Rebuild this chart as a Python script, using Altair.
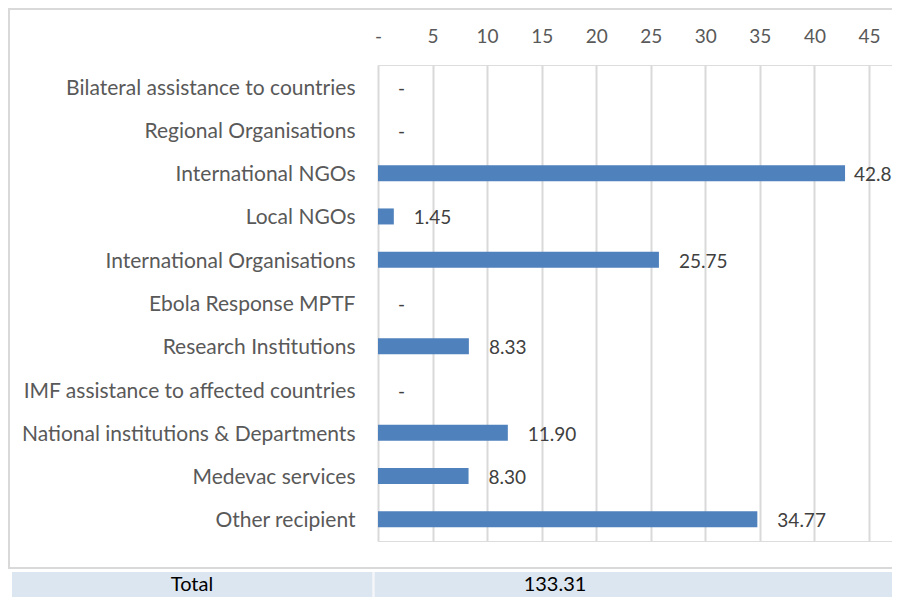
import altair as alt
import pandas as pd

categories = [
    "Bilateral assistance to countries",
    "Regional Organisations",
    "International NGOs",
    "Local NGOs",
    "International Organisations",
    "Ebola Response MPTF",
    "Research Institutions",
    "IMF assistance to affected countries",
    "National institutions & Departments",
    "Medevac services",
    "Other recipient",
]
values = [0, 0, 42.81, 1.45, 25.75, 0, 8.33, 0, 11.90, 8.30, 34.77]
x_ticks = [0, 5, 10, 15, 20, 25, 30, 35, 40, 45]
total_label = "Total"
total_value = 133.31

df = pd.DataFrame({"recipient": categories, "amount": values})
one = pd.DataFrame({"k": [0]})
table = pd.DataFrame({"label": [total_label], "total": [f"{total_value:.2f}"]})

FONT = "Lato"
PLOT_W = 514
PLOT_H = 476
UNIT = 10.91
x_max = PLOT_W / UNIT

xscale = alt.Scale(domain=[0, x_max], nice=False, zero=True)
yscale = alt.Scale(paddingInner=0.63, paddingOuter=0.315)

x_axis = alt.Axis(
    orient="top", values=x_ticks,
    labelExpr="datum.value == 0 ? '-' : datum.label",
    grid=True, gridColor="#d9d9d9", gridWidth=2,
    domain=False, ticks=False, labelFlush=False, labelOverlap=False,
    labelFontSize=19, labelFont=FONT, labelColor="#595959",
    labelBaseline="alphabetic", labelPadding=23, title=None,
)
y_axis = alt.Axis(
    domain=False, ticks=False, grid=False,
    labelFontSize=21, labelFont=FONT, labelColor="#595959",
    labelPadding=23, labelLimit=400, labelOffset=2, title=None,
)

base = alt.Chart(df)

bars = base.mark_bar(color="#4f81bd").encode(
    x=alt.X("amount:Q", scale=xscale, axis=x_axis),
    y=alt.Y("recipient:N", sort=categories, scale=yscale, axis=y_axis),
)

lab_expr = "datum.amount == 0 ? '-' : format(datum.amount, '.2f')"
labels = base.transform_filter("datum.amount < 40").transform_calculate(
    lab=lab_expr
).mark_text(align="left", baseline="middle", dx=20, dy=2, fontSize=19, font=FONT, color="#404040").encode(
    x=alt.X("amount:Q", scale=xscale),
    y=alt.Y("recipient:N", sort=categories, scale=yscale),
    text="lab:N",
)
labels_big = base.transform_filter("datum.amount >= 40").transform_calculate(
    lab=lab_expr
).mark_text(align="left", baseline="middle", dx=9, dy=2, fontSize=19, font=FONT, color="#404040").encode(
    x=alt.X("amount:Q", scale=xscale),
    y=alt.Y("recipient:N", sort=categories, scale=yscale),
    text="lab:N",
)

border = alt.Chart(one).mark_rect(fill=None, stroke="#d9d9d9", strokeWidth=2).encode(
    x=alt.value(-369), x2=alt.value(640), y=alt.value(-56), y2=alt.value(503)
)
cell = alt.Chart(one).mark_rect(fill="#dce6f1").encode(
    x=alt.value(-366), x2=alt.value(640), y=alt.value(507), y2=alt.value(600)
)
divider = alt.Chart(one).mark_rule(color="#f4f6f9", strokeWidth=2.5).encode(
    x=alt.value(-4.5), y=alt.value(507), y2=alt.value(600)
)
t_label = alt.Chart(table).mark_text(fontSize=20, font=FONT, color="#000000", baseline="alphabetic").encode(
    x=alt.value(-186), y=alt.value(526), text="label:N"
)
t_value = alt.Chart(table).mark_text(fontSize=20, font=FONT, color="#000000", baseline="alphabetic").encode(
    x=alt.value(177), y=alt.value(526), text="total:N"
)

chart = alt.layer(
    cell, divider, border, bars, labels, labels_big, t_label, t_value
).properties(
    width=PLOT_W, height=PLOT_H,
    autosize=alt.AutoSizeParams(type="none"),
    padding={"left": 370, "top": 57, "right": 0, "bottom": 56},
).configure_view(stroke=None).configure(background="#ffffff")

chart.save("out.html", embed_options={"renderer": "svg", "actions": False})
